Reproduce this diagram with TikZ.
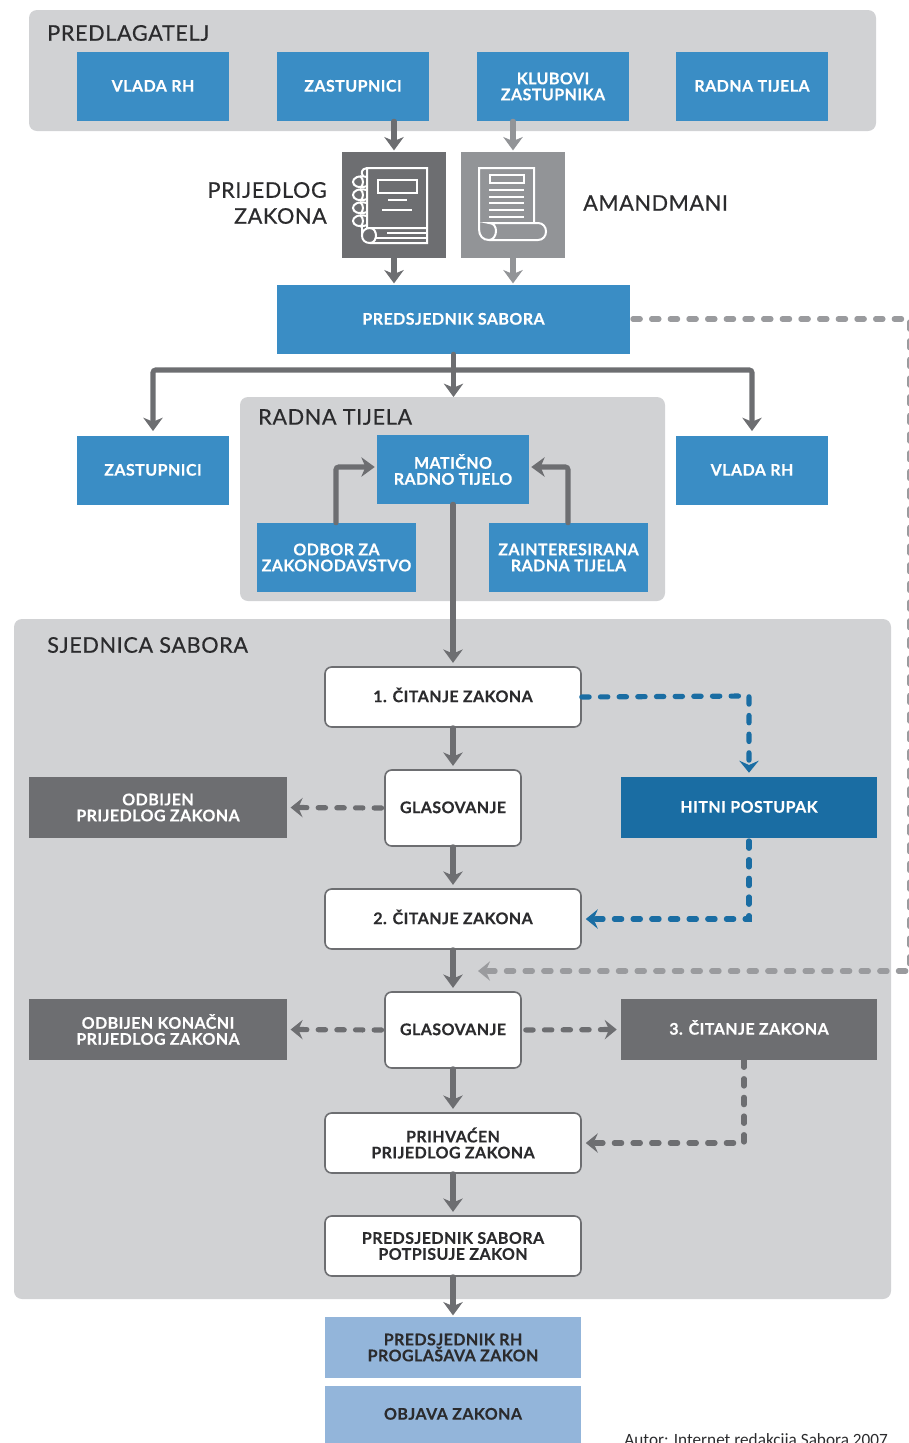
\documentclass[tikz,border=0pt]{standalone}
\usepackage{fontspec}
\setmainfont[LetterSpace=2.8,BoldFeatures={FakeBold=0.3}]{Lato}
\newfontfamily\hdfont[FakeBold=0.5,LetterSpace=3]{Lato}
\newfontfamily\autfont{Carlito}
\usetikzlibrary{arrows.meta,calc}
\definecolor{panel}{HTML}{D1D2D4}
\definecolor{bluebox}{HTML}{3A8DC5}
\definecolor{deepblue}{HTML}{1A6DA3}
\definecolor{darkgray}{HTML}{6D6E71}
\definecolor{midgray}{HTML}{929497}
\definecolor{dashgray}{HTML}{9A9B9E}
\definecolor{lightblue}{HTML}{93B5DA}
\definecolor{inktext}{HTML}{2B2B2D}
\tikzset{
  basebox/.style={inner sep=0pt,align=center,font=\fontsize{12}{12}\selectfont\bfseries},
  oneline/.style={text height=8.6pt,text depth=0.9pt},
  bluenode/.style={basebox,fill=bluebox,text=white},
  deepnode/.style={basebox,fill=deepblue,text=white},
  graynode/.style={basebox,fill=darkgray,text=white},
  whitenode/.style={basebox,fill=white,draw=darkgray,line width=1.2pt,rounded corners=5pt,text=inktext},
  lightnode/.style={basebox,fill=lightblue,text=inktext},
  panelbox/.style={fill=panel,rounded corners=6pt},
  iconbox/.style={inner sep=0pt},
  heading/.style={inner sep=0pt,text=inktext,align=right,font=\fontsize{16.2}{19.5}\selectfont\hdfont},
  solidarrow/.style={line width=3.8pt,line cap=round,-{Stealth[length=10pt,width=14.5pt,inset=3pt]},draw=darkgray},
  lightarrow/.style={solidarrow,draw=midgray},
  dashflow/.style={line width=3.9pt,line cap=round,dash pattern=on 5.5pt off 8.5pt,-{Stealth[length=9pt,width=14.5pt,inset=3.2pt]}},
  dashgrayarrow/.style={dashflow,draw=darkgray},
  dashlight/.style={dashflow,draw=dashgray},
  dashblue/.style={dashflow,draw=deepblue},
  iconline/.style={draw=white,line width=1.5pt,fill=none}
}
\newcommand{\bx}[7]{\node[#2,minimum width={(#5-#3)*0.75pt},minimum height={(#6-#4)*0.75pt}] (#1) at ({(#3+#5)/2},{(#4+#6)/2}) {#7};}
\begin{document}
\begin{tikzpicture}[x=0.75pt,y=-0.75pt]
\useasboundingbox (0,0) rectangle (909,1443);
% panels
\fill[panelbox] (29,10) rectangle (876,131);
\fill[panelbox] (240,397) rectangle (665,601);
\fill[panelbox] (14,619) rectangle (891,1299);
% headings
\node[heading,anchor=west] (hpred) at (47,33) {PREDLAGATELJ};
\node[heading,anchor=east] (hprij) at (327,203) {PRIJEDLOG\\ZAKONA};
\node[heading,anchor=west] (hamand) at (583,203) {AMANDMANI};
\node[heading,anchor=west] (hradna) at (258,417) {RADNA TIJELA};
\node[heading,anchor=west] (hsjed) at (47,645) {SJEDNICA SABORA};
% boxes
\bx{vlada}{bluenode,oneline}{77}{52}{229}{121}{VLADA RH}
\bx{zast}{bluenode,oneline}{277}{52}{429}{121}{ZASTUPNICI}
\bx{klub}{bluenode}{477}{52}{629}{121}{KLUBOVI\\ZASTUPNIKA}
\bx{rt}{bluenode,oneline}{676}{52}{828}{121}{RADNA TIJELA}
\bx{book}{iconbox,fill=darkgray}{342}{152}{446}{258}{}
\bx{scroll}{iconbox,fill=midgray}{461}{152}{565}{258}{}
\bx{pred}{bluenode,oneline}{277}{285}{630}{354}{PREDSJEDNIK SABORA}
\bx{zb}{bluenode,oneline}{77}{436}{229}{505}{ZASTUPNICI}
\bx{vb}{bluenode,oneline}{676}{436}{828}{505}{VLADA RH}
\bx{mat}{bluenode}{377}{435}{529}{504}{MATIČNO\\RADNO TIJELO}
\bx{odbor}{bluenode}{257}{523}{416}{592}{ODBOR ZA\\ZAKONODAVSTVO}
\bx{zain}{bluenode}{489}{523}{648}{592}{ZAINTERESIRANA\\RADNA TIJELA}
\bx{c1}{whitenode,oneline}{325}{667}{581}{727}{1. ČITANJE ZAKONA}
\bx{g1}{whitenode,oneline}{385}{770}{521}{846}{GLASOVANJE}
\bx{odb1}{graynode}{29}{777}{287}{838}{ODBIJEN\\PRIJEDLOG ZAKONA}
\bx{hit}{deepnode,oneline}{621}{777}{877}{838}{HITNI POSTUPAK}
\bx{c2}{whitenode,oneline}{325}{889}{581}{949}{2. ČITANJE ZAKONA}
\bx{g2}{whitenode,oneline}{385}{992}{521}{1068}{GLASOVANJE}
\bx{odb2}{graynode}{29}{999}{287}{1060}{ODBIJEN KONAČNI\\PRIJEDLOG ZAKONA}
\bx{c3}{graynode,oneline}{621}{999}{877}{1060}{3. ČITANJE ZAKONA}
\bx{pri}{whitenode}{325}{1113}{581}{1173}{PRIHVAĆEN\\PRIJEDLOG ZAKONA}
\bx{ps}{whitenode}{325}{1216}{581}{1276}{PREDSJEDNIK SABORA\\POTPISUJE ZAKON}
\bx{prh}{lightnode}{325}{1317}{581}{1378}{PREDSJEDNIK RH\\PROGLAŠAVA ZAKON}
\bx{obj}{lightnode,oneline}{325}{1386}{581}{1443}{OBJAVA ZAKONA}
\node[anchor=base east,inner sep=0pt,text=inktext,font=\fontsize{12.9}{14}\selectfont\autfont] (autor) at (888,1445) {Autor: Internet redakcija Sabora 2007};
% book icon
\begin{scope}[iconline]
\draw (367,228) -- (367,168) -- (427,168) -- (427,243) -- (370,243) .. controls (365,243) and (362,240) .. (362,235.5) .. controls (362,231) and (365,228) .. (370,228) -- (427,228);
\draw (370,228) .. controls (374,228) and (376,232) .. (376,235.5) .. controls (376,239) and (374,243) .. (370,243);
\draw (378,180) rectangle (417,193);
\draw (388,200) -- (407,200);
\draw (382,210) -- (412,210);
\draw (387,233) -- (427,233);
\draw (375,238) -- (427,238);
\draw (367,168) .. controls (361,169) and (361,173) .. (363,176);
\foreach \yy in {182,195,208,221} {
  \draw (367,\yy-5) .. controls (358,\yy-7) and (353,\yy-4) .. (353,\yy) .. controls (353,\yy+4) and (359,\yy+7) .. (367,\yy+4);
  \draw (360,\yy-6) .. controls (364,\yy-3) and (364,\yy+3) .. (360,\yy+6);
}
\draw (362,235) -- (362,226);
\end{scope}
% scroll icon
\begin{scope}[iconline]
\draw (534,222) -- (534,168) -- (479,168) -- (479,229) .. controls (479,236) and (483,240) .. (489,240) -- (538,240) .. controls (543,240) and (546,236) .. (546,231.5) .. controls (546,227) and (543,223) .. (538,223) -- (489,223) .. controls (494,223) and (496,227) .. (496,231) .. controls (496,236) and (493,240) .. (489,240);
\draw (490,175) rectangle (524,183);
\foreach \yy in {190,197,203,210,217} {\draw (489,\yy) -- (524,\yy);}
\end{scope}
% connectors: solid
\draw[solidarrow,shorten >=1pt] (book.north |- zast.south) -- (book.north);
\draw[lightarrow,shorten >=1pt] (scroll.north |- klub.south) -- (scroll.north);
\draw[solidarrow,shorten >=1pt] (book.south) -- (book.south |- pred.north);
\draw[lightarrow,shorten >=1pt] (scroll.south) -- (scroll.south |- pred.north);
\coordinate (branch) at (453,370);
\coordinate (radnatop) at (453.5,397);
\draw[solidarrow] (pred.south) -- (radnatop);
\draw[solidarrow,rounded corners=2pt,shorten >=3.5pt] (branch) -| (zb.north);
\draw[solidarrow,rounded corners=2pt,shorten >=3.5pt] (branch) -| (vb.north);
\coordinate (matin) at (336,467);
\coordinate (zainin) at (568,467);
\draw[solidarrow,rounded corners=2pt,shorten >=1.5pt] (odbor.north -| matin) |- (mat.west |- matin);
\draw[solidarrow,rounded corners=2pt,shorten >=1.5pt] (zain.north -| zainin) |- (mat.east |- zainin);
\draw[solidarrow,shorten >=2.5pt] (mat.south) -- (c1.north);
\draw[solidarrow,shorten >=2.5pt] (c1.south) -- (g1.north);
\draw[solidarrow,shorten >=2.5pt] (g1.south) -- (c2.north);
\draw[solidarrow,shorten >=2.5pt] (c2.south) -- (g2.north);
\draw[solidarrow,shorten >=2.5pt] (g2.south) -- (pri.north);
\draw[solidarrow,shorten >=2.5pt] (pri.south) -- (ps.north);
\draw[solidarrow,shorten >=1pt] (ps.south) -- (prh.north);
% connectors: dashed
\draw[dashgrayarrow,shorten >=2.5pt,shorten <=2pt] (g1.west) -- (odb1.east);
\draw[dashgrayarrow,shorten >=2.5pt,shorten <=2pt] (g2.west) -- (odb2.east);
\draw[dashgrayarrow,shorten >=3pt,shorten <=3pt] (g2.east) -- (c3.west);
\coordinate (c3out) at (744,1060);
\coordinate (pricorner) at (744,1143);
\draw[dashgrayarrow,shorten >=3pt] (c3out) -- (pricorner) -- (pri.east);
\coordinate (hitin) at (749,696);
\draw[dashblue,shorten >=3pt] (c1.east) -- (hitin) -- (hit.north);
\coordinate (hitout) at (749,919);
\draw[dashblue,shorten >=3pt,shorten <=2pt] (hit.south -| hitout) -- (hitout) -- (c2.east |- hitout);
\coordinate (re1) at (910,319);
\coordinate (re2) at (910,971);
\coordinate (mergept) at (478,971);
\draw[dashlight,shorten <=2pt] (pred.east |- re1) -- (re1) -- (re2) -- (mergept);
\end{tikzpicture}
\end{document}
